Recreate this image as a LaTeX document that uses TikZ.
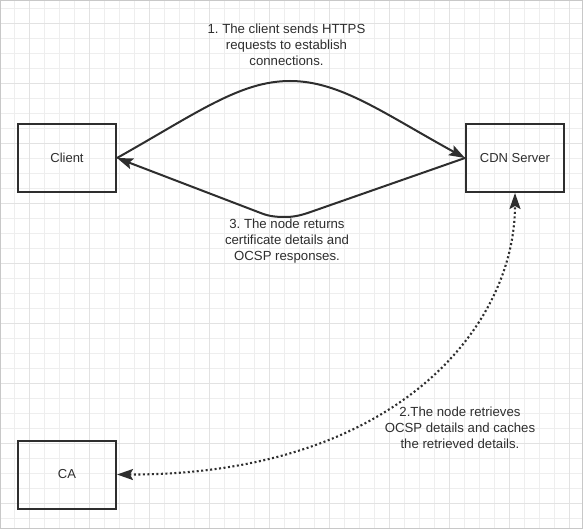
\documentclass[tikz,border=0pt]{standalone}
\usepackage{fontspec}
\setmainfont{Liberation Sans}
\frenchspacing
\usetikzlibrary{arrows.meta}
\definecolor{ink}{HTML}{2E2E2E}
\definecolor{gridminor}{HTML}{EEEEEE}
\definecolor{gridmajor}{HTML}{E2E2E2}
\definecolor{frame}{HTML}{C8C8C8}
\tikzset{
  box/.style={draw=ink, line width=2pt, minimum width=98pt, minimum height=68pt, inner sep=0pt, text=ink, font=\fontsize{13}{16}\selectfont},
  lbl/.style={align=center, text=ink, inner sep=0pt, font=\fontsize{13.2}{16}\selectfont},
  arrowtip/.style={Stealth[length=16pt, width=11pt, inset=3pt]},
  edge/.style={draw=ink, line width=2pt, line join=round, -{Stealth[length=16pt, width=11pt, inset=3pt]}},
  dotedge/.style={draw=ink, line width=2.1pt, dash pattern=on 2pt off 2.5pt, {Stealth[length=16pt, width=11pt, inset=3pt]}-{Stealth[length=16pt, width=11pt, inset=3pt]}}
}
\begin{document}
\begin{tikzpicture}[x=1pt, y=-1pt]
\useasboundingbox (0,0) rectangle (583,529);
\fill[white] (0,0) rectangle (583,529);
% grid
\foreach \i in {0,...,37} {\draw[gridminor, line width=0.9pt] ({14.3+15*\i},1) -- ({14.3+15*\i},528);}
\foreach \j in {0,...,34} {\draw[gridminor, line width=0.9pt] (1,{8.3+15*\j}) -- (582,{8.3+15*\j});}
\foreach \i in {0,...,9} {\draw[gridmajor, line width=0.9pt] ({29.3+60*\i},1) -- ({29.3+60*\i},528);}
\foreach \j in {0,...,8} {\draw[gridmajor, line width=0.9pt] (1,{23.3+60*\j}) -- (582,{23.3+60*\j});}
\draw[frame, line width=1.2pt] (0.6,0.6) rectangle (582.4,528.4);
% nodes
\node[box] (client) at (67,158) {Client};
\node[box] (cdn) at (515,158) {CDN Server};
\node[box] (ca) at (67,474.5) {CA};
\coordinate (tb) at (290,81);
\coordinate (ba) at (310,212.2);
\coordinate (bb) at (285,217);
\coordinate (bcc) at (262,213.5);
% connectors
\draw[edge] (client.east) .. controls (197,113) and (240,81) .. (tb)
  .. controls (340,81) and (383,113) .. (cdn.west);
\draw[edge] (cdn.west) -- (ba) .. controls (300,215.7) and (293,217) .. (bb)
  .. controls (278,217) and (270,216.6) .. (bcc) -- (client.east);
\draw[dotedge] (ca.east) .. controls (394,475) and (515,328) .. (cdn.south);
% labels
\node[lbl] (t1) at (286.5,44.5) {1. The client sends HTTPS\\requests to establish\\connections.};
\node[lbl] (t3) at (287,241.5) {3. The node returns\\certificate details and\\OCSP responses.};
\node[lbl] (t2) at (460,427.5) {2.The node retrieves\\OCSP details and caches\\the retrieved details.};
\end{tikzpicture}
\end{document}
